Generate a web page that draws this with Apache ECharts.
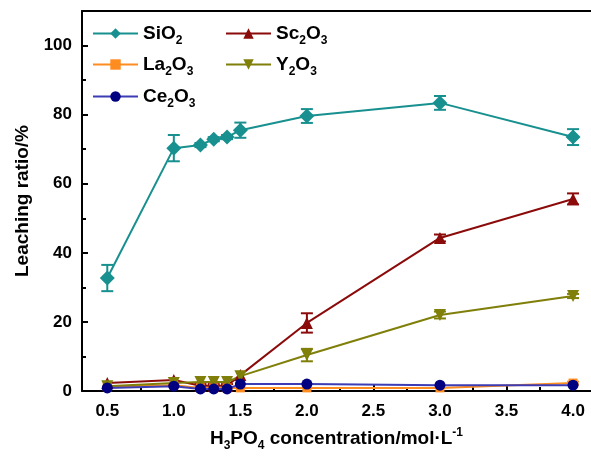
<!DOCTYPE html>
<head>
    <meta charset="utf-8">
    <script type="text/javascript" src="https://cdn.jsdelivr.net/npm/echarts@6/dist/echarts.min.js"></script>
</head>
<body style="margin:0">
	<div id="main" style="width:591px; height:457px"></div>
	<script type="text/javascript">
		// H3PO4 concentration (mol/L)
		var conc = [0.5, 1.0, 1.2, 1.3, 1.4, 1.5, 2.0, 3.0, 4.0];

		var sio2 = [32.7, 70.3, 71.2, 72.9, 73.5, 75.5, 79.6, 83.4, 73.5];
		var sio2Err = [3.8, 3.8, 0.6, 0.6, 0.6, 2.2, 2.0, 2.0, 2.3];
		var sc2o3 = [2.3, 3.2, 1.5, 1.5, 1.5, 4.6, 19.7, 44.3, 55.6];
		var sc2o3Err = [0, 0, 0.5, 0.5, 0.5, 0, 2.8, 1.0, 1.6];
		var la2o3 = [1.2, 1.7, 0.9, 0.9, 0.9, 0.9, 0.9, 0.9, 2.3];
		var la2o3Err = [0, 0, 0, 0, 0, 0, 0, 0, 0.4];
		var y2o3 = [1.4, 2.3, 2.6, 2.6, 2.6, 4.3, 10.4, 22.0, 27.5];
		var y2o3Err = [0, 0, 0, 0, 0, 0, 1.8, 1.0, 0.6];
		var ce2o3 = [0.9, 1.4, 0.6, 0.6, 0.6, 2.0, 2.0, 1.7, 1.7];

		var xLabels = [0.5, 1.0, 1.5, 2.0, 2.5, 3.0, 3.5, 4.0];
		var xMinor = [0.75, 1.25, 1.75, 2.25, 2.75, 3.25, 3.75];

		var font = 'Liberation Sans, Arial, sans-serif';

		function pairs(vals) {
			return conc.map(function (x, i) { return [x, vals[i]]; });
		}

		function lineSeries(name, vals, symbol, size, color, lineColor, rotate) {
			return {
				name: name,
				type: 'line',
				data: pairs(vals),
				symbol: symbol,
				symbolSize: size,
				symbolRotate: rotate || 0,
				z: 3,
				itemStyle: {color: color},
				lineStyle: {color: lineColor || color, width: 2}
			};
		}

		function errSeries(name, vals, errs, color) {
			var d = [];
			for (var i = 0; i < conc.length; i++) {
				if (errs[i] > 0) d.push([conc[i], vals[i], errs[i]]);
			}
			return {
				name: name + ' err',
				type: 'custom',
				z: 2,
				data: d,
				encode: {x: 0, y: 1},
				renderItem: function (params, api) {
					var x = api.value(0), y = api.value(1), e = api.value(2);
					var hi = api.coord([x, y + e]);
					var lo = api.coord([x, y - e]);
					var w = 6;
					var st = {stroke: color, lineWidth: 2};
					return {
						type: 'group',
						children: [
							{type: 'line', shape: {x1: hi[0], y1: hi[1], x2: lo[0], y2: lo[1]}, style: st},
							{type: 'line', shape: {x1: hi[0] - w, y1: hi[1], x2: hi[0] + w, y2: hi[1]}, style: st},
							{type: 'line', shape: {x1: lo[0] - w, y1: lo[1], x2: lo[0] + w, y2: lo[1]}, style: st}
						]
					};
				}
			};
		}

		function legendAt(name, left, top) {
			return {
				data: [name],
				left: left,
				top: top,
				padding: 0,
				itemWidth: 45,
				itemHeight: 13,
				selectedMode: false,
				formatter: function (n) {
					return '{n|' + n.replace(/(\d)/g, '}{s|$1}{n|') + '}';
				},
				textStyle: {
					rich: {
						n: {fontSize: 19, fontWeight: 'bold', fontFamily: font, color: '#000'},
						s: {fontSize: 12, fontWeight: 'bold', fontFamily: font, color: '#000', padding: [14, 0, 0, 0]}
					}
				}
			};
		}

		var axisLine = {lineStyle: {color: '#000', width: 2}};

		var myChart = echarts.init(document.getElementById('main'));
		var option = {
			animation: false,
			textStyle: {fontFamily: font},
			grid: {left: 82, right: 0, top: 11, bottom: 66},
			legend: [
				legendAt('SiO2', 92, 24),
				legendAt('Sc2O3', 225, 24),
				legendAt('La2O3', 92, 55),
				legendAt('Y2O3', 225, 55),
				legendAt('Ce2O3', 92, 87)
			],
			xAxis: [
				{
					type: 'value', min: 0.31, max: 4.135,
					axisLine: axisLine,
					splitLine: {show: false},
					axisTick: {inside: true, length: 6, lineStyle: {width: 2, color: '#000'}, customValues: xLabels},
					axisLabel: {
						customValues: xLabels, margin: 12,
						fontSize: 17, fontWeight: 'bold', color: '#000', fontFamily: font,
						formatter: function (v) { return v.toFixed(1); }
					},
					name: 'H{s|3}PO{s|4} concentration/mol·L{p|-1}',
					nameLocation: 'middle',
					nameGap: 35,
					nameTextStyle: {
						fontSize: 19, fontWeight: 'bold', color: '#000', fontFamily: font,
						rich: {
							s: {fontSize: 12, fontWeight: 'bold', fontFamily: font, padding: [14, 0, 0, 0]},
							p: {fontSize: 12, fontWeight: 'bold', fontFamily: font, padding: [0, 0, 12, 0]}
						}
					}
				},
				{
					type: 'value', min: 0.31, max: 4.135, position: 'bottom',
					axisLine: {show: false},
					splitLine: {show: false},
					axisTick: {inside: true, length: 4, lineStyle: {width: 2, color: '#000'}, customValues: xMinor},
					axisLabel: {show: false}
				},
				{
					type: 'value', min: 0.31, max: 4.135, position: 'top',
					axisLine: axisLine,
					splitLine: {show: false},
					axisTick: {show: false},
					axisLabel: {show: false}
				}
			],
			yAxis: {
				type: 'value', min: 0, max: 110, interval: 20,
				axisLine: {show: true, lineStyle: {color: '#000', width: 2}},
				splitLine: {show: false},
				axisTick: {inside: true, length: 6, lineStyle: {width: 2, color: '#000'}},
				minorTick: {show: true, splitNumber: 2, length: 4, lineStyle: {width: 2, color: '#000'}},
				axisLabel: {
					showMaxLabel: false, margin: 10,
					fontSize: 17, fontWeight: 'bold', color: '#000', fontFamily: font
				},
				name: 'Leaching ratio/%',
				nameLocation: 'middle',
				nameGap: 49,
				nameTextStyle: {fontSize: 19, fontWeight: 'bold', color: '#000', fontFamily: font}
			},
			series: [
				errSeries('SiO2', sio2, sio2Err, '#17908f'),
				errSeries('Sc2O3', sc2o3, sc2o3Err, '#8b0a0a'),
				errSeries('La2O3', la2o3, la2o3Err, '#ff8c1e'),
				errSeries('Y2O3', y2o3, y2o3Err, '#7f7f0a'),
				lineSeries('SiO2', sio2, 'diamond', 15, '#17908f'),
				lineSeries('Sc2O3', sc2o3, 'triangle', 12, '#8b0a0a'),
				lineSeries('La2O3', la2o3, 'rect', 9, '#ff8c1e'),
				lineSeries('Y2O3', y2o3, 'triangle', 12, '#7f7f0a', null, 180),
				lineSeries('Ce2O3', ce2o3, 'circle', 11, '#000080', '#3c3cb4')
			]
		};

		myChart.setOption(option);
	</script>
</body>
